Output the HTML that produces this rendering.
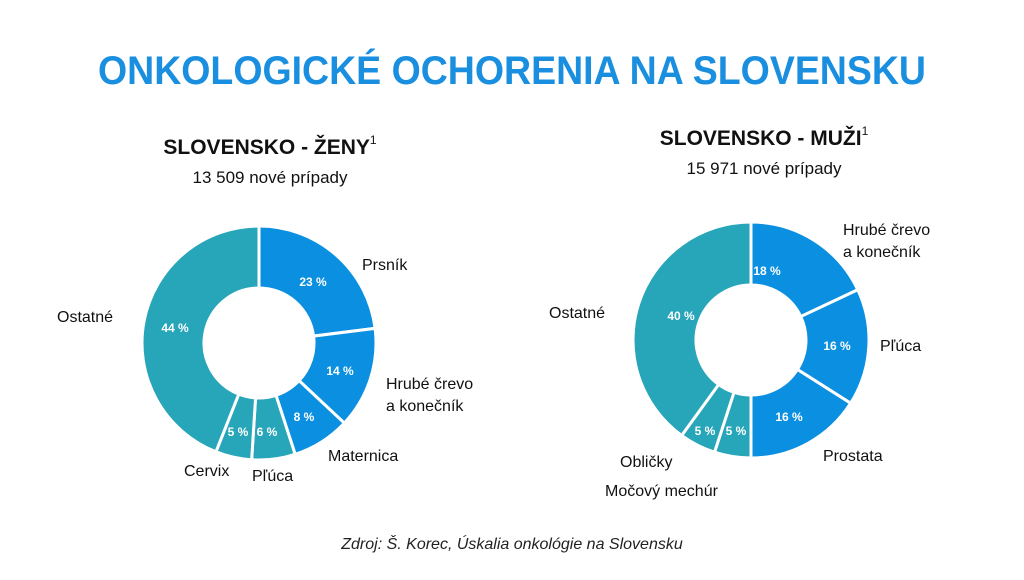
<!DOCTYPE html>
<html><head><meta charset="utf-8"><style>
body{margin:0;width:1024px;height:575px;background:#fff;font-family:"Liberation Sans","DejaVu Sans",sans-serif;overflow:hidden}
svg text{font-family:"Liberation Sans","DejaVu Sans",sans-serif}
</style></head><body>
<svg id="s" width="1024" height="575" xmlns="http://www.w3.org/2000/svg">
<text x="98" y="84" textLength="828" lengthAdjust="spacingAndGlyphs" font-size="40" font-weight="bold" fill="#1a8fe0">ONKOLOGICKÉ OCHORENIA NA SLOVENSKU</text>
<text x="270" y="154" text-anchor="middle" font-size="21" font-weight="bold" fill="#111">SLOVENSKO - ŽENY<tspan font-size="12" font-weight="normal" dy="-10">1</tspan></text>
<text x="270" y="183" text-anchor="middle" font-size="17" fill="#111">13 509 nové prípady</text>
<text x="764" y="145" text-anchor="middle" font-size="21" font-weight="bold" fill="#111">SLOVENSKO - MUŽI<tspan font-size="12" font-weight="normal" dy="-10">1</tspan></text>
<text x="764" y="174" text-anchor="middle" font-size="17" fill="#111">15 971 nové prípady</text>
<g id="d1"></g><g id="d2"></g>
<g font-size="16" fill="#111">
<text x="362" y="270">Prsník</text>
<text x="386" y="389">Hrubé črevo</text>
<text x="386" y="411">a konečník</text>
<text x="328" y="461">Maternica</text>
<text x="252" y="481">Pľúca</text>
<text x="184" y="476">Cervix</text>
<text x="57" y="322">Ostatné</text>
<text x="843" y="235">Hrubé črevo</text>
<text x="843" y="257">a konečník</text>
<text x="880" y="351">Pľúca</text>
<text x="823" y="461">Prostata</text>
<text x="620" y="467">Obličky</text>
<text x="605" y="496">Močový mechúr</text>
<text x="549" y="318">Ostatné</text>
</g>
<g font-size="12" font-weight="bold" fill="#fff" text-anchor="middle">
<text x="313" y="286">23 %</text><text x="340" y="375">14 %</text><text x="304" y="421">8 %</text>
<text x="267" y="436">6 %</text><text x="238" y="436">5 %</text><text x="175" y="332">44 %</text>
<text x="767" y="275">18 %</text><text x="837" y="350">16 %</text><text x="789" y="421">16 %</text>
<text x="736" y="435">5 %</text><text x="705" y="435">5 %</text><text x="681" y="320">40 %</text>
</g>
<text x="512" y="549" text-anchor="middle" font-size="16" font-style="italic" fill="#222">Zdroj: Š. Korec, Úskalia onkológie na Slovensku</text>
</svg>
<script>
function donut(id,cx,cy,R,r,vals,cols){
 var g=document.getElementById(id),a=0,h='';
 vals.forEach(function(v,i){
  var a0=a*2*Math.PI/100-Math.PI/2;a+=v;var a1=a*2*Math.PI/100-Math.PI/2;
  var L=(a1-a0)>Math.PI?1:0;
  function p(rr,t){return (cx+rr*Math.cos(t)).toFixed(2)+' '+(cy+rr*Math.sin(t)).toFixed(2)}
  h+='<path d="M'+p(R,a0)+' A'+R+' '+R+' 0 '+L+' 1 '+p(R,a1)+' L'+p(r,a1)+' A'+r+' '+r+' 0 '+L+' 0 '+p(r,a0)+'Z" fill="'+cols[i]+'" stroke="#fff" stroke-width="3"/>';
 });
 g.innerHTML=h;
}
var B='#0b8fe0',T='#27a5b9';
donut('d1',259,343,117,55,[23,14,8,6,5,44],[B,B,B,T,T,T]);
donut('d2',751,340,118,55,[18,16,16,5,5,40],[B,B,B,T,T,T]);
</script>
</body></html>
